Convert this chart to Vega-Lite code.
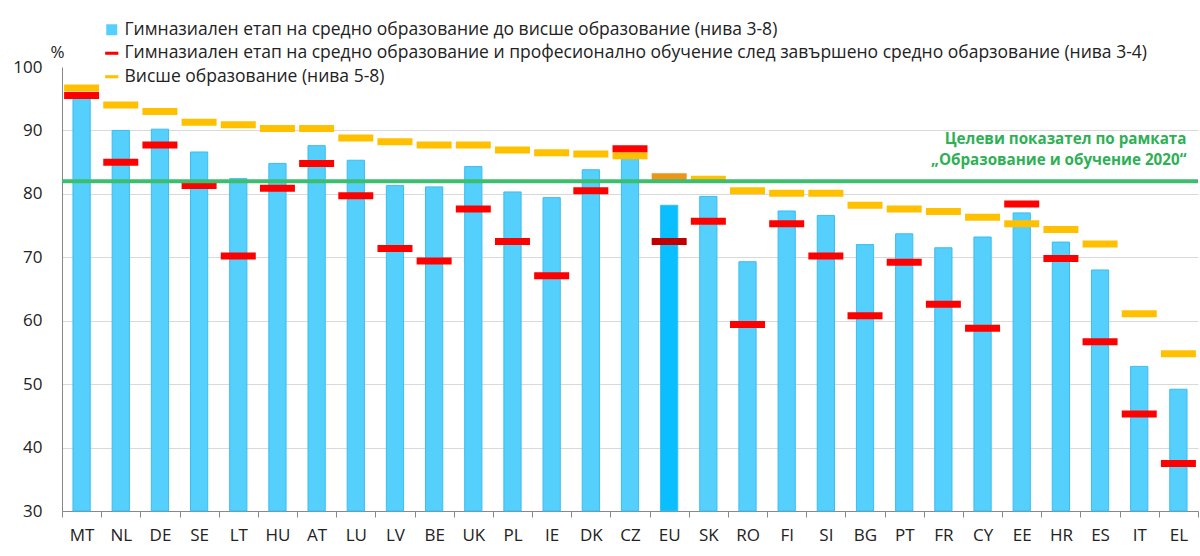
{
  "$schema": "https://vega.github.io/schema/vega-lite/v6.json",
  "width": 1136,
  "height": 444,
  "autosize": {"type": "none"},
  "padding": {"left": 62, "top": 67, "right": 2, "bottom": 45},
  "background": "white",
  "config": {
    "view": {"stroke": null},
    "font": "Open Sans",
    "axis": {"labelFont": "Open Sans", "labelColor": "#222", "domainColor": "#888", "tickColor": "#888"}
  },
  "data": {
    "values": [
      {"c": "MT", "a": 95.3, "b": 95.5, "t": 96.7},
      {"c": "NL", "a": 90.0, "b": 85.0, "t": 94.0},
      {"c": "DE", "a": 90.2, "b": 87.7, "t": 93.0},
      {"c": "SE", "a": 86.6, "b": 81.3, "t": 91.3},
      {"c": "LT", "a": 82.4, "b": 70.2, "t": 90.9},
      {"c": "HU", "a": 84.8, "b": 80.9, "t": 90.3},
      {"c": "AT", "a": 87.6, "b": 84.8, "t": 90.3},
      {"c": "LU", "a": 85.3, "b": 79.7, "t": 88.8},
      {"c": "LV", "a": 81.3, "b": 71.4, "t": 88.2},
      {"c": "BE", "a": 81.1, "b": 69.4, "t": 87.7},
      {"c": "UK", "a": 84.3, "b": 77.6, "t": 87.7},
      {"c": "PL", "a": 80.3, "b": 72.5, "t": 86.9},
      {"c": "IE", "a": 79.4, "b": 67.1, "t": 86.5},
      {"c": "DK", "a": 83.8, "b": 80.5, "t": 86.3},
      {"c": "CZ", "a": 86.0, "b": 87.1, "t": 86.0},
      {"c": "EU", "a": 78.2, "b": 72.5, "t": 82.7},
      {"c": "SK", "a": 79.6, "b": 75.7, "t": 82.3},
      {"c": "RO", "a": 69.3, "b": 59.4, "t": 80.5},
      {"c": "FI", "a": 77.3, "b": 75.3, "t": 80.1},
      {"c": "SI", "a": 76.6, "b": 70.2, "t": 80.1},
      {"c": "BG", "a": 72.0, "b": 60.8, "t": 78.2},
      {"c": "PT", "a": 73.7, "b": 69.2, "t": 77.6},
      {"c": "FR", "a": 71.5, "b": 62.6, "t": 77.2},
      {"c": "CY", "a": 73.2, "b": 58.8, "t": 76.3},
      {"c": "EE", "a": 77.0, "b": 78.4, "t": 75.3},
      {"c": "HR", "a": 72.4, "b": 69.8, "t": 74.4},
      {"c": "ES", "a": 68.0, "b": 56.7, "t": 72.1},
      {"c": "IT", "a": 52.8, "b": 45.3, "t": 61.1},
      {"c": "EL", "a": 49.2, "b": 37.5, "t": 54.8}
    ]
  },
  "encoding": {
    "x": {
      "field": "c", "type": "nominal",
      "scale": {
        "domain": ["MT","NL","DE","SE","LT","HU","AT","LU","LV","BE","UK","PL","IE","DK","CZ","EU","SK","RO","FI","SI","BG","PT","FR","CY","EE","HR","ES","IT","EL"],
        "paddingInner": 0, "paddingOuter": 0
      },
      "axis": {
        "title": null, "labelAngle": 0, "labelFontSize": 17, "labelPadding": 10,
        "tickBand": "extent", "tickSize": 6, "grid": false, "domainColor": "#888"
      }
    }
  },
  "layer": [
    {
      "transform": [{"fold": ["a"], "as": ["s", "v"]}],
      "mark": {"type": "bar", "width": {"band": 0.44}, "stroke": "#3BBDF0", "strokeWidth": 1},
      "encoding": {
        "y": {
          "field": "v", "type": "quantitative",
          "scale": {"domain": [30, 100], "zero": false, "nice": false},
          "axis": {
            "title": "%", "titleAngle": 0, "titleX": -5, "titleY": -6, "titleAlign": "center", "titleBaseline": "bottom",
            "titleFontSize": 17, "titleFontWeight": "normal", "titleColor": "#222", "titleFont": "Open Sans",
            "values": [30, 40, 50, 60, 70, 80, 90, 100],
            "labelFontSize": 17, "labelPadding": 20, "ticks": false,
            "grid": true, "gridColor": "#D9D9D9",
            "gridOpacity": {"condition": {"test": "datum.value >= 100", "value": 0}, "value": 1}
          }
        },
        "y2": {"datum": 30},
        "color": {
          "field": "s", "type": "nominal",
          "condition": {"test": "datum.c === 'EU'", "value": "#0ABFFF"},
          "scale": {"domain": ["a", "b", "t"], "range": ["#55CFFC", "#FF0000", "#FFC000"]},
          "legend": {
            "orient": "none", "legendX": 41, "legendY": -46, "title": null, "direction": "vertical",
            "labelFontSize": 17.5, "labelColor": "#222", "labelFont": "Open Sans", "labelLimit": 1200,
            "symbolSize": 121, "rowPadding": 4.5, "labelOffset": 4, "padding": 0, "symbolStrokeWidth": 0,
            "symbolType": "square",
            "labelExpr": "datum.value === 'a' ? 'Гимназиален етап на средно образование до висше образование (нива 3-8)' : datum.value === 'b' ? 'Гимназиален етап на средно образование и професионално обучение след завършено средно обарзование (нива 3-4)' : 'Висше образование (нива 5-8)'",
            "encoding": {"symbols": {"shape": {"condition": {"test": "datum.value === 'a'", "value": "square"}, "value": "M-1.2,-0.28H1.2V0.28H-1.2Z"}}}
          }
        }
      }
    },
    {
      "transform": [{"fold": ["t"], "as": ["s", "v"]}],
      "mark": {"type": "tick", "thickness": 7, "size": 35, "opacity": 1},
      "encoding": {
        "y": {"field": "v", "type": "quantitative"},
        "color": {"field": "s", "type": "nominal", "condition": {"test": "datum.c === 'EU'", "value": "#EE9418"}}
      }
    },
    {
      "transform": [{"fold": ["b"], "as": ["s", "v"]}],
      "mark": {"type": "tick", "thickness": 7, "size": 35, "opacity": 1},
      "encoding": {
        "y": {"field": "v", "type": "quantitative"},
        "color": {"field": "s", "type": "nominal", "condition": {"test": "datum.c === 'EU'", "value": "#C00000"}}
      }
    },
    {
      "data": {"values": [{}]},
      "mark": {"type": "rule", "color": "#3DBE6E", "strokeWidth": 4},
      "encoding": {"x": null, "y": {"datum": 82}}
    },
    {
      "data": {"values": [{}]},
      "mark": {"type": "text", "align": "right", "baseline": "middle", "dx": 8, "fontWeight": "bold", "fontSize": 15.2, "color": "#2EB054", "font": "Open Sans"},
      "encoding": {"x": {"datum": "EL"}, "y": {"datum": 88.7}, "text": {"value": "Целеви показател по рамката"}}
    },
    {
      "data": {"values": [{}]},
      "mark": {"type": "text", "align": "right", "baseline": "middle", "dx": 8, "fontWeight": "bold", "fontSize": 15.2, "color": "#2EB054", "font": "Open Sans"},
      "encoding": {"x": {"datum": "EL"}, "y": {"datum": 85.4}, "text": {"value": "„Образование и обучение 2020“"}}
    }
  ]
}
